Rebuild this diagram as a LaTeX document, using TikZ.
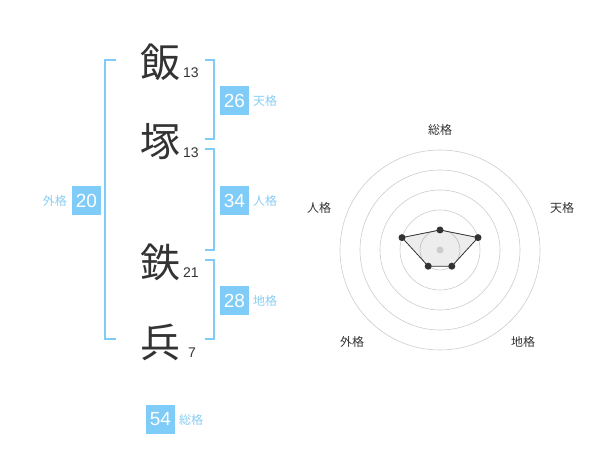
\documentclass[tikz,border=0pt]{standalone}
\usepackage{fontspec}
\setmainfont{Liberation Sans}
\newfontfamily\jp{Noto Sans CJK JP}
\definecolor{sky}{HTML}{80CCF8}
\definecolor{skytext}{HTML}{88CDF3}
\definecolor{ink}{HTML}{333333}
\definecolor{ring}{HTML}{CCCCCC}
\tikzset{
  kanji/.style={font=\jp\fontsize{40}{40}\selectfont, text=ink, inner sep=0pt},
  strokes/.style={font=\fontsize{14}{14}\selectfont, text=ink, inner sep=0pt, anchor=base west},
  valbox/.style={fill=sky, text=white, minimum width=29pt, minimum height=29pt, inner sep=0pt, font=\fontsize{19}{19}\selectfont},
  kaku/.style={text=skytext, font=\jp\fontsize{12}{12}\selectfont, inner sep=0pt},
  bracket/.style={draw=sky, line width=1.5pt},
  axislbl/.style={text=ink, font=\jp\fontsize{12}{12}\selectfont, inner sep=0pt},
  ringline/.style={draw=ring, line width=0.6pt},
  dot/.style={circle, fill=ink, minimum size=7pt, inner sep=0pt}
}
\begin{document}
\begin{tikzpicture}[x=1pt,y=-1pt]
\useasboundingbox (0,0) rectangle (600,470);
% kanji
\node[kanji] (k1) at (160,62) {飯};
\node[kanji] (k2) at (160,142) {塚};
\node[kanji] (k3) at (160,262) {鉄};
\node[kanji] (k4) at (160,342) {兵};
\node[strokes] (s1) at (183,78) {13};
\node[strokes] (s2) at (183,158) {13};
\node[strokes] (s3) at (183,278) {21};
\node[strokes] (s4) at (188,358) {7};
% brackets
\coordinate (lt) at (116,60);
\coordinate (lb) at (116,339);
\draw[bracket] (lt) -| (105,339) -- (lb);
\draw[bracket] (205,60) -| (214,139) -- (205,139);
\draw[bracket] (205,149) -| (214,250) -- (205,250);
\draw[bracket] (205,260) -| (214,339) -- (205,339);
% value boxes
\node[valbox] (b26) at (234.5,100.5) {26};
\node[kaku, anchor=west] (l26) at (253,101) {天格};
\node[valbox] (b34) at (234.5,200.5) {34};
\node[kaku, anchor=west] (l34) at (253,201) {人格};
\node[valbox] (b28) at (234.5,300.5) {28};
\node[kaku, anchor=west] (l28) at (253,301) {地格};
\node[valbox] (b20) at (86.5,200.5) {20};
\node[kaku, anchor=east] (l20) at (67,201) {外格};
\node[valbox] (b54) at (160.5,419.5) {54};
\node[kaku, anchor=west] (l54) at (179,420) {総格};
% radar
\coordinate (c) at (440,250);
\foreach \r in {20,40,60,80,100} \draw[ringline] (c) circle (\r);
\coordinate (p1) at (440,230);
\coordinate (p2) at (478,237.6);
\coordinate (p3) at (451.8,266.2);
\coordinate (p4) at (428.2,266.2);
\coordinate (p5) at (402,237.6);
\fill[black, opacity=0.07] (p1) -- (p2) -- (p3) -- (p4) -- (p5) -- cycle;
\draw[ink, line width=0.8pt] (p1) -- (p2) -- (p3) -- (p4) -- (p5) -- cycle;
\node[circle, fill=ring, minimum size=7pt, inner sep=0pt] (ctr) at (c) {};
\foreach \p in {p1,p2,p3,p4,p5} \node[dot] at (\p) {};
\node[axislbl] (a1) at (440,130) {総格};
\node[axislbl] (a2) at (562,208) {天格};
\node[axislbl] (a3) at (523,342) {地格};
\node[axislbl] (a4) at (352,342) {外格};
\node[axislbl] (a5) at (319,208) {人格};
\end{tikzpicture}
\end{document}
